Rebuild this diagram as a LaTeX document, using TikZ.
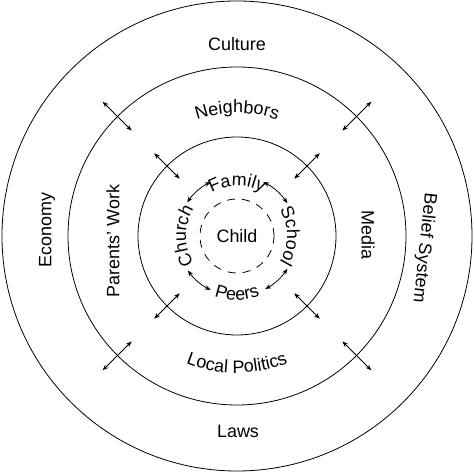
\documentclass[tikz,border=0pt]{standalone}
\usepackage{fontspec}
\setmainfont{Liberation Sans}
\usetikzlibrary{decorations.text,arrows.meta}
\newcommand{\lblfont}{\fontsize{18}{21}\selectfont}

\begin{document}
\begin{tikzpicture}[x=1bp,y=1bp]
    \tikzstyle{every path}=[line width=0.8pt]
    \tikzstyle{lbl}=[font=\lblfont,inner sep=0pt]
    \tikzstyle{dbl}=[{Stealth[length=6bp,width=4.5bp]}-{Stealth[length=6bp,width=4.5bp]}]
    \tikzstyle{curved}=[decorate,decoration={text along path,text align=center}]

    \useasboundingbox (-237,-237) rectangle (237,236);

    % Draw the rings
    \draw (0,0) circle[radius=235bp];
    \draw (0,0) circle[radius=169bp];
    \draw (0,0) circle[radius=99bp];
    \draw[dash pattern=on 8bp off 7bp] (0,0) circle[radius=37bp];

    % Straight labels
    \node[lbl] (child) at (0,0) {Child};
    \node[lbl] (culture) at (0,192) {Culture};
    \node[lbl] (laws) at (1,-195) {Laws};
    \node[lbl,rotate=90] (economy) at (-190,6) {Economy};
    \node[lbl,rotate=90] (work) at (-124,-5) {Parents' Work};
    \node[lbl,rotate=-90] (media) at (131,1) {Media};
    \node[lbl,rotate=-96] (belief) at (187,-12) {Belief System};

    % Labels bent along the rings
    \path[curved,decoration={text={|\lblfont|Neighbors}}]
        (140:123bp) arc[start angle=140,end angle=40,radius=123bp];
    \path[curved,decoration={text={|\lblfont|Local Politics}}]
        (215:137bp) arc[start angle=215,end angle=325,radius=137bp];
    \path[curved,decoration={text={|\lblfont|Family}}]
        (150:50bp) arc[start angle=150,end angle=30,radius=50bp];
    \path[curved,decoration={text={|\lblfont|Peers}}]
        (210:64bp) arc[start angle=210,end angle=330,radius=64bp];
    \path[curved,decoration={text={|\lblfont|Church}}]
        (220:51bp) arc[start angle=220,end angle=140,radius=51bp];
    \path[curved,decoration={text={|\lblfont|School}}]
        (40:50bp) arc[start angle=40,end angle=-40,radius=50bp];

    % Ends of the arrows
    \coordinate (fam-ch) at (116:60bp);
    \coordinate (fam-sc) at (64:60bp);
    \coordinate (peer-ch) at (244:60bp);
    \coordinate (peer-sc) at (298:60bp);
    \coordinate (nw-out) at (135:190bp);
    \coordinate (nw-mid) at (135:149bp);
    \coordinate (ne-out) at (45:190bp);
    \coordinate (ne-mid) at (45:149bp);
    \coordinate (sw-out) at (225:190bp);
    \coordinate (sw-mid) at (225:149bp);
    \coordinate (se-out) at (315:190bp);
    \coordinate (se-mid) at (315:149bp);
    \coordinate (nw-top) at (135:117bp);
    \coordinate (nw-in) at (135:81bp);
    \coordinate (ne-top) at (45:117bp);
    \coordinate (ne-in) at (45:81bp);
    \coordinate (sw-top) at (225:117bp);
    \coordinate (sw-in) at (225:81bp);
    \coordinate (se-top) at (315:117bp);
    \coordinate (se-in) at (315:81bp);

    % Arrows between the inner labels
    \draw[dbl] (fam-ch) arc[start angle=116,end angle=146,radius=60bp];
    \draw[dbl] (fam-sc) arc[start angle=64,end angle=33,radius=60bp];
    \draw[dbl] (peer-ch) arc[start angle=244,end angle=215,radius=60bp];
    \draw[dbl] (peer-sc) arc[start angle=298,end angle=327,radius=60bp];

    % Arrows across the rings
    \draw[dbl] (nw-out) -- (nw-mid);
    \draw[dbl] (ne-out) -- (ne-mid);
    \draw[dbl] (sw-out) -- (sw-mid);
    \draw[dbl] (se-out) -- (se-mid);
    \draw[dbl] (nw-top) -- (nw-in);
    \draw[dbl] (ne-top) -- (ne-in);
    \draw[dbl] (sw-top) -- (sw-in);
    \draw[dbl] (se-top) -- (se-in);
\end{tikzpicture}
\end{document}
